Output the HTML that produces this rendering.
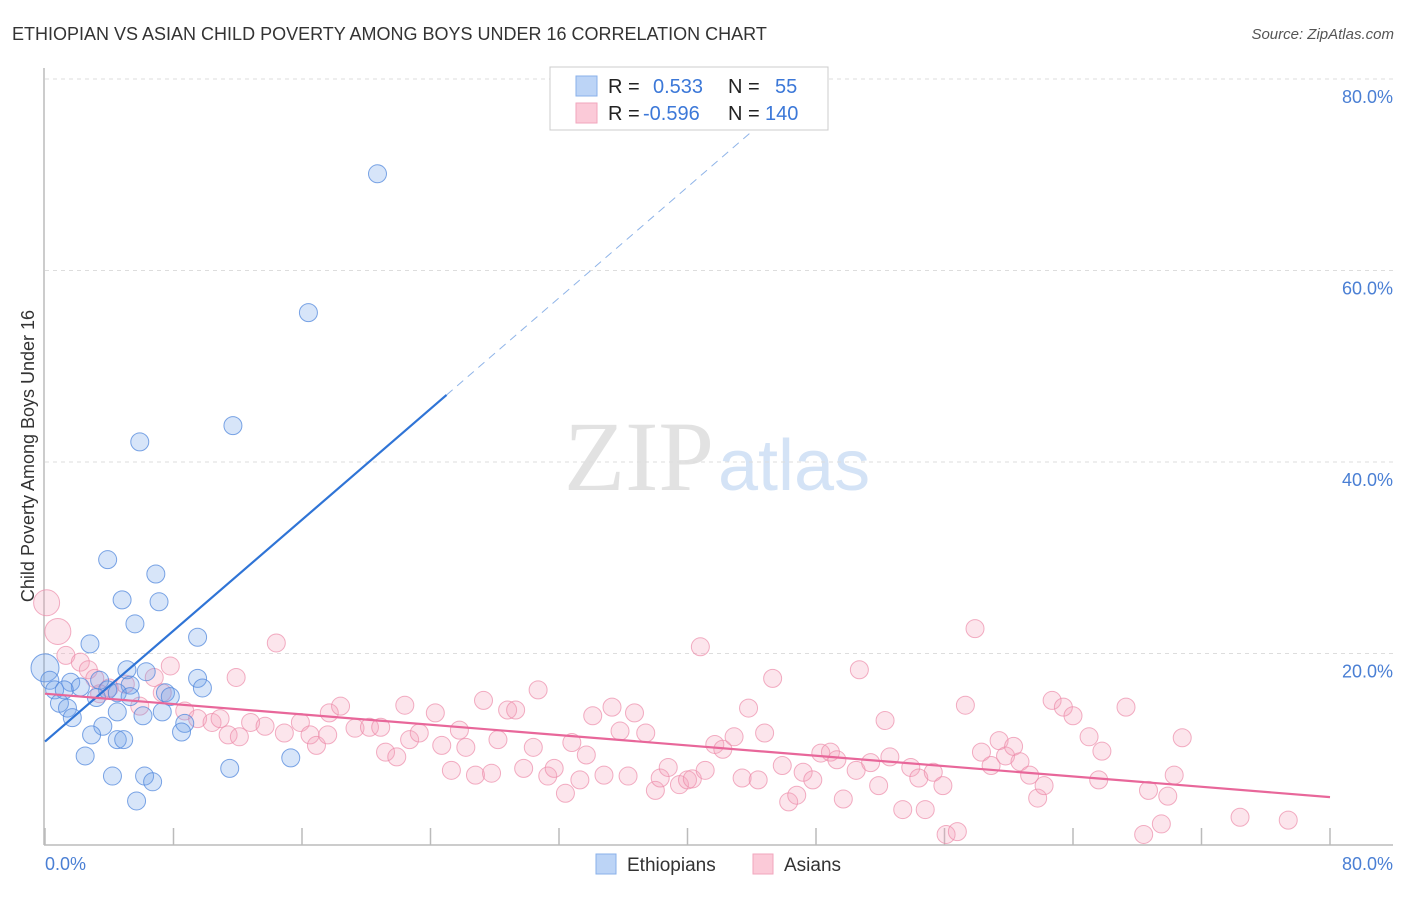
<!DOCTYPE html>
<html><head><meta charset="utf-8"><style>
body{margin:0;background:#fff;font-family:"Liberation Sans",sans-serif;}
</style></head><body>
<svg id="chart" width="1406" height="892" xmlns="http://www.w3.org/2000/svg" font-family="Liberation Sans, sans-serif">
<text x="12" y="40" font-size="18" fill="#333">ETHIOPIAN VS ASIAN CHILD POVERTY AMONG BOYS UNDER 16 CORRELATION CHART</text>
<text x="1394" y="39" font-size="15" fill="#555" font-style="italic" text-anchor="end">Source: ZipAtlas.com</text>
<text x="714" y="490" font-size="100" fill="#e2e2e2" text-anchor="end" style="font-family:'Liberation Serif',serif">ZIP</text>
<text x="718" y="490" font-size="72" fill="#d4e3f6">atlas</text>
<g id="grid"></g>
<g id="axes"></g>
<g id="pts"></g>
<g id="lines"></g>
<text transform="translate(34,456) rotate(-90)" font-size="18" fill="#333" text-anchor="middle">Child Poverty Among Boys Under 16</text>
<text x="45" y="870" font-size="18" fill="#4a7fd4">0.0%</text>
<text x="1393" y="870" font-size="18" fill="#4a7fd4" text-anchor="end">80.0%</text>
<g>
<rect x="550" y="67" width="278" height="63" fill="#fff" stroke="#ccc"/>
<rect x="576" y="76" width="21" height="20" fill="#bcd4f6" stroke="#8ab0ea"/>
<rect x="576" y="103" width="21" height="20" fill="#fbcad8" stroke="#f2a6bd"/>
<text x="608" y="93" font-size="20" fill="#222">R =</text>
<text x="653" y="93" font-size="20" fill="#3c78d8">0.533</text>
<text x="728" y="93" font-size="20" fill="#222">N =</text>
<text x="775" y="93" font-size="20" fill="#3c78d8">55</text>
<text x="608" y="120" font-size="20" fill="#222">R =</text>
<text x="643" y="120" font-size="20" fill="#3c78d8">-0.596</text>
<text x="728" y="120" font-size="20" fill="#222">N =</text>
<text x="765" y="120" font-size="20" fill="#3c78d8">140</text>
</g>
<g>
<rect x="596" y="854" width="20" height="20" fill="#bcd4f6" stroke="#8ab0ea"/>
<text x="627" y="871" font-size="19" fill="#333">Ethiopians</text>
<rect x="753" y="854" width="20" height="20" fill="#fbcad8" stroke="#f2a6bd"/>
<text x="784" y="871" font-size="19" fill="#333">Asians</text>
</g>
</svg>
<script>
const yTicks=[20,40,60,80];
const yTickLabels=["20.0%","40.0%","60.0%","80.0%"];
const xTicks=[0,8,16,24,32,40,48,56,64,72,80];
const ethX=[20.7,16.4,11.7,5.9,3.9,6.9,4.8,7.1,5.6,9.5,2.8,5.1,6.3,0,0.3,9.5,1.6,3.4,2.2,0.6,1.2,9.8,5.3,3.9,4.5,7.5,7.8,3.2,5.3,0.9,1.4,4.5,7.3,6.1,1.7,8.7,3.6,8.5,2.9,4.5,4.9,2.5,15.3,11.5,4.2,6.2,6.7,5.7];
const ethY=[70.1,55.6,43.8,42.1,29.8,28.3,25.6,25.4,23.1,21.7,21.0,18.3,18.1,18.5,17.2,17.4,17.0,17.2,16.5,16.2,16.2,16.4,16.7,16.2,15.9,15.9,15.5,15.4,15.5,14.8,14.3,13.9,13.9,13.5,13.3,12.7,12.4,11.8,11.5,11.0,11.0,9.3,9.1,8.0,7.2,7.2,6.6,4.6];
const asX=[0.1,0.8,1.3,2.2,2.7,3.1,4.0,5.0,3.4,6.8,7.8,11.9,14.4,7.3,5.9,8.7,9.5,10.4,10.9,11.4,12.1,12.8,13.7,14.9,15.9,16.5,16.9,17.6,17.7,18.4,19.3,20.2,20.9,21.2,21.9,22.4,22.7,23.3,24.3,24.7,25.3,25.8,26.2,26.8,27.3,27.8,28.2,28.8,29.3,29.8,30.4,30.7,31.3,31.7,32.4,32.8,33.3,33.7,34.1,34.8,35.3,35.8,36.3,36.7,37.4,38.0,38.3,38.8,39.5,40.0,40.3,40.8,41.1,41.7,42.2,42.9,43.4,43.8,44.4,44.8,45.3,45.9,46.3,46.8,47.2,47.8,48.3,48.9,49.3,49.7,50.5,50.7,51.4,51.9,52.3,52.6,53.4,53.9,54.4,54.8,55.3,55.9,56.1,56.8,57.3,57.9,58.3,58.9,59.4,59.8,60.3,60.7,61.3,61.8,62.2,62.7,63.4,64.0,65.0,65.6,65.8,67.3,68.4,68.7,69.5,69.9,70.3,70.8,74.4,77.4];
const asY=[25.3,22.3,19.8,19.1,18.3,17.4,16.4,16.8,15.8,17.5,18.7,17.5,21.1,15.9,14.5,14.0,13.2,12.8,13.2,11.5,11.3,12.8,12.4,11.7,12.8,11.5,10.4,11.5,13.8,14.5,12.2,12.3,12.3,9.7,9.2,14.6,11.0,11.7,13.8,10.4,7.8,12.0,10.2,7.3,15.1,7.5,11.0,14.1,14.1,8.0,10.2,16.2,7.2,8.0,5.4,10.7,6.8,9.4,13.5,7.3,14.4,11.9,7.2,13.8,11.7,5.7,7.0,8.1,6.3,6.8,6.9,20.7,7.8,10.5,10.0,11.3,7.0,14.3,6.8,11.7,17.4,8.3,4.5,5.2,7.6,6.8,9.6,9.7,8.9,4.8,7.8,18.3,8.6,6.2,13.0,9.2,3.7,8.1,7.0,3.7,7.6,6.2,1.1,1.4,14.6,22.6,9.7,8.3,10.9,9.3,10.3,8.7,7.3,4.9,6.2,15.1,14.4,13.5,11.3,6.8,9.8,14.4,1.1,5.7,2.2,5.1,7.3,11.2,2.9,2.6];
const ethLine=[10.8,1.448]; // intercept, slope
const asLine=[15.8,-0.135];
const X0=45,X1=1330,Y0=845,YPER=9.575;
const sx=v=>X0+(X1-X0)*v/80;
const sy=v=>Y0-v*YPER;
const NS="http://www.w3.org/2000/svg";
function mk(tag,attrs,parent){const e=document.createElementNS(NS,tag);for(const k in attrs)e.setAttribute(k,attrs[k]);parent.appendChild(e);return e;}
const grid=document.getElementById('grid'),axes=document.getElementById('axes'),pts=document.getElementById('pts'),lines=document.getElementById('lines');
yTicks.forEach((t,i)=>{
 const l=mk('line',{x1:45,x2:1393,y1:sy(t),y2:sy(t),stroke:'#ddd','stroke-dasharray':'4,4'},grid);
 
 
 const tx=mk('text',{x:1393,y:sy(t)+24,'font-size':18,fill:'#4a7fd4','text-anchor':'end'},grid);
 tx.textContent=yTickLabels[i];
 
 
});
const ya=mk('line',{x1:44,x2:44,y1:68,y2:Y0,stroke:'#bbb','stroke-width':1.5},axes);


const xa=mk('line',{x1:44,x2:1393,y1:Y0,y2:Y0,stroke:'#bbb','stroke-width':1.5},axes);


xTicks.forEach(t=>{
 const l=mk('line',{x1:sx(t),x2:sx(t),y1:828,y2:Y0,stroke:'#bbb','stroke-width':1.5},axes);
 
 
});
asX.forEach((x,i)=>{
 const r=(i<2)?13:9;
 const c=mk('circle',{cx:sx(x),cy:sy(asY[i]),r:r,fill:'rgba(244,160,188,0.28)',stroke:'rgba(236,140,170,0.7)','stroke-width':1},pts);
 
 
});
ethX.forEach((x,i)=>{
 const r=(i==13)?14:9;
 const c=mk('circle',{cx:sx(x),cy:sy(ethY[i]),r:r,fill:'rgba(110,160,235,0.28)',stroke:'rgba(80,135,220,0.75)','stroke-width':1},pts);
 
 
});
const be=mk('line',{x1:sx(0),y1:sy(ethLine[0]),x2:sx(25),y2:sy(ethLine[0]+25*ethLine[1]),stroke:'#2f74d6','stroke-width':2.2},lines);


const bd=mk('line',{x1:sx(25),y1:sy(ethLine[0]+25*ethLine[1]),x2:sx(44.5),y2:sy(ethLine[0]+44.5*ethLine[1]),stroke:'#8fb4e8','stroke-width':1,'stroke-dasharray':'8,6'},lines);


const pl=mk('line',{x1:sx(0),y1:sy(asLine[0]),x2:sx(80),y2:sy(asLine[0]+80*asLine[1]),stroke:'#e8679a','stroke-width':2.2},lines);


</script>
</body></html>
